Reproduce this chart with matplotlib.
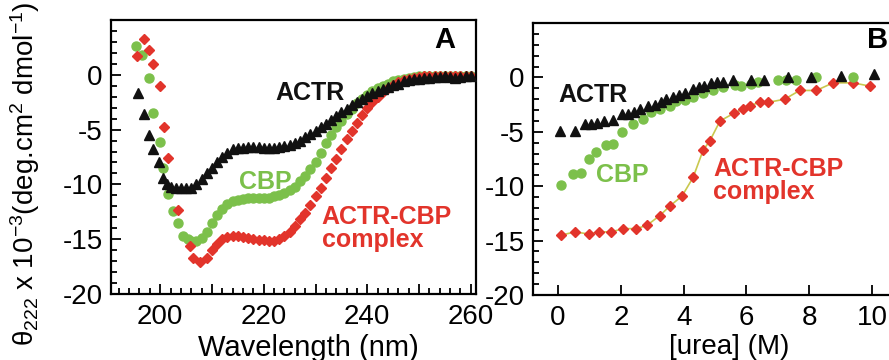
import matplotlib
matplotlib.use("Agg")
import matplotlib.pyplot as plt
from matplotlib.ticker import MultipleLocator

plt.rcParams['font.family'] = ['Liberation Sans', 'DejaVu Sans']
plt.rcParams['mathtext.fontset'] = 'custom'
plt.rcParams['mathtext.rm'] = 'Liberation Sans'
plt.rcParams['mathtext.it'] = 'Liberation Sans'
plt.rcParams['axes.unicode_minus'] = False

BLACK = '#111111'
GREEN = '#7cc04b'
RED = '#e2342b'
FIT = '#c9c84e'

# --- panel A: CD spectra ---
wl_actr = [195.7, 196.8, 197.9, 198.7, 199.7, 200.5, 201.3] + list(range(202, 261))
cd_actr = [-1.7, -3.6, -5.5, -6.8, -8.0, -9.4, -10.0,
           -10.2, -10.3, -10.3, -10.3, -10.3, -10.0, -9.5, -9.0, -8.5, -8.0,
           -7.5, -7.1, -6.8, -6.7, -6.7, -6.6, -6.6, -6.6, -6.7, -6.7,
           -6.7, -6.6, -6.5, -6.4, -6.2, -6.0, -5.7, -5.4, -5.1, -4.8,
           -4.5, -4.1, -3.8, -3.4, -3.1, -2.8, -2.5, -2.2, -1.9, -1.7,
           -1.5, -1.3, -1.1, -0.9, -0.8, -0.6, -0.5, -0.4, -0.35, -0.3,
           -0.25, -0.2, -0.2, -0.15, -0.2, -0.3, -0.2, -0.1, -0.1]

wl_cbp = [195.4, 196.5, 197.8, 198.7, 199.9, 200.6, 201.6, 202.4, 203.5, 204.5, 205.4] + list(range(206, 261))
cd_cbp = [2.6, 1.8, -0.3, -3.5, -6.1, -8.5, -10.9, -12.4, -13.5, -14.7, -15.0,
          -15.2, -15.2, -14.9, -14.3, -13.5, -12.8, -12.2, -11.8, -11.5, -11.4,
          -11.3, -11.2, -11.2, -11.2, -11.2, -11.2, -11.1, -11.0, -10.8, -10.5,
          -10.2, -9.7, -9.2, -8.6, -8.0, -7.1, -6.2, -5.5, -4.8, -4.2,
          -3.6, -3.1, -2.6, -2.2, -1.8, -1.5, -1.2, -1.0, -0.8, -0.6,
          -0.45, -0.35, -0.25, -0.2, -0.15, -0.1, -0.1, -0.1, -0.1, -0.1,
          -0.1, -0.1, -0.1, -0.1, -0.1]

wl_cplx = [195.6, 196.8, 197.9, 198.7, 199.9, 200.8, 201.6, 203.5, 205.8, 206.4, 207.7] + list(range(209, 261))
cd_cplx = [1.7, 3.3, 2.3, 1.0, -1.0, -4.8, -7.6, -12.3, -15.6, -16.7, -17.1,
           -16.7, -16.0, -15.4, -15.0, -14.8, -14.7, -14.7, -14.8, -14.9, -15.0,
           -15.1, -15.1, -15.2, -15.2, -15.0, -14.7, -14.3, -13.8, -13.2, -12.6,
           -11.9, -11.1, -10.3, -9.4, -8.5, -7.7, -6.8, -5.9, -5.1, -4.4,
           -3.7, -3.0, -2.5, -2.0, -1.6, -1.2, -0.9, -0.7, -0.5, -0.4,
           -0.3, -0.2, -0.15, -0.1, -0.1, -0.1, -0.1, -0.1, -0.1, -0.1,
           -0.1, -0.1]

# --- panel B: urea denaturation ---
urea_actr = [0.07, 0.53, 0.87, 1.06, 1.25, 1.46, 1.75, 2.05, 2.23, 2.41, 2.6, 2.87,
             3.08, 3.27, 3.45, 3.66, 3.85, 4.03, 4.3, 4.49, 4.65, 4.88, 5.07, 5.25,
             5.57, 6.14, 6.56, 7.32, 8.07, 9.02, 10.05]
th_actr = [-4.9, -4.9, -4.3, -4.3, -4.2, -4.0, -3.9, -3.4, -3.4, -3.2, -2.9, -2.6,
           -2.5, -2.3, -2.0, -1.8, -1.6, -1.4, -1.1, -0.9, -0.8, -0.55, -0.46, -0.4,
           -0.2, -0.2, -0.2, 0.05, 0.0, 0.1, 0.35]

urea_cbp = [0.1, 0.48, 0.74, 1.0, 1.22, 1.54, 1.75, 2.02, 2.39, 2.69, 2.97, 3.24,
            3.56, 3.77, 4.03, 4.3, 4.62, 4.94, 5.25, 5.63, 5.84, 6.16, 6.37, 7.0,
            7.27, 7.59, 8.23, 9.4]
th_cbp = [-9.9, -8.9, -8.8, -7.5, -6.9, -6.2, -6.1, -5.0, -4.3, -3.8, -3.2, -2.9,
          -2.6, -2.2, -2.1, -1.8, -1.4, -1.2, -0.9, -0.7, -0.8, -0.6, -0.4, -0.2,
          -0.25, -0.2, 0.0, 0.05]

urea_cplx = [0.1, 0.53, 0.99, 1.3, 1.7, 2.07, 2.49, 2.83, 3.24, 3.57, 3.95, 4.3,
             4.62, 4.84, 5.16, 5.6, 5.89, 6.1, 6.42, 6.69, 7.22, 7.7, 8.23, 8.76,
             9.4, 9.93]
th_cplx = [-14.5, -14.2, -14.4, -14.2, -14.2, -13.9, -13.9, -13.6, -12.7, -11.8, -10.9, -9.2,
           -6.7, -5.8, -4.0, -3.3, -2.9, -2.6, -2.3, -2.3, -2.0, -1.2, -1.2, -0.5,
           -0.5, -0.8]

W, H = 889, 360
fig = plt.figure(figsize=(W / 100, H / 100), dpi=100)
axA = fig.add_axes([111 / W, 66 / H, 365 / W, 274 / H])
axB = fig.add_axes([533 / W, 65 / H, 365 / W, 272 / H])

ms = 6.5
axA.plot(wl_actr, cd_actr, ls='none', marker='^', ms=ms, color=BLACK, zorder=3)
axA.plot(wl_cbp, cd_cbp, ls='none', marker='o', ms=ms, color=GREEN, zorder=2)
axA.plot(wl_cplx, cd_cplx, ls='none', marker='D', ms=ms - 1.5, color=RED, zorder=2)

axB.plot(urea_cplx, th_cplx, ls='-', lw=1.2, color=FIT, zorder=1)
axB.plot(urea_cplx, th_cplx, ls='none', marker='D', ms=ms - 1, color=RED, zorder=2)
axB.plot(urea_cbp, th_cbp, ls='none', marker='o', ms=ms, color=GREEN, zorder=2)
axB.plot(urea_actr, th_actr, ls='none', marker='^', ms=ms + 1, color=BLACK, zorder=3)

for ax in (axA, axB):
    ax.set_ylim(-20, 5)
    ax.set_yticks([0, -5, -10, -15, -20])
    ax.yaxis.set_minor_locator(MultipleLocator(1))
    for s in ax.spines.values():
        s.set_linewidth(1.6)
    ax.tick_params(which='both', direction='in', top=False, right=False,
                   labelsize=20, width=1.3)
    ax.tick_params(which='major', length=7)
    ax.tick_params(which='minor', length=4)
    ax.tick_params(axis='y', pad=6)
    ax.tick_params(axis='x', pad=7)

axA.set_xlim(190.5, 261)
axA.set_xticks([200, 210, 220, 230, 240, 250, 260])
axA.set_xticklabels(['200', '', '220', '', '240', '', '260'])
axA.xaxis.set_minor_locator(MultipleLocator(2))
axA.set_xlabel('Wavelength (nm)', fontsize=21, labelpad=1)
axA.xaxis.set_label_coords(0.54, -0.145)
axA.set_ylabel(r'$\theta_{222}$ x 10$^{-3}$(deg.cm$^{2}$ dmol$^{-1}$)',
               fontsize=20, labelpad=4)
axA.yaxis.set_label_coords(-0.19, 0.44)

axB.set_xlim(-0.8, 10.83)
axB.set_xticks([0, 2, 4, 6, 8, 10])
axB.spines['right'].set_visible(False)
axB.set_xlabel('[urea] (M)', fontsize=20, labelpad=1)
axB.xaxis.set_label_coords(0.537, -0.145)

bold = dict(fontsize=18, fontweight='bold')
axA.text(222.2, -1.7, 'ACTR', color=BLACK, ha='left', va='center', **bold)
axA.text(215.3, -9.8, 'CBP', color=GREEN, ha='left', va='center', **bold)
axA.text(231.2, -14.0, 'ACTR-CBP\ncomplex', color=RED, ha='left', va='center',
         linespacing=0.95, **bold)
axA.text(0.942, 0.927, 'A', transform=axA.transAxes, ha='right', va='center',
         fontsize=21, fontweight='bold')

axB.text(0.0, -1.6, 'ACTR', color=BLACK, ha='left', va='center', **bold)
axB.text(1.2, -9.0, 'CBP', color=GREEN, ha='left', va='center', **bold)
axB.text(4.95, -9.5, 'ACTR-CBP\ncomplex', color=RED, ha='left', va='center',
         linespacing=0.95, **bold)
fig.text(0.999, 1 - 40 / H, 'B', ha='right', va='center',
         fontsize=21, fontweight='bold')

fig.savefig('out.png', dpi=100)
